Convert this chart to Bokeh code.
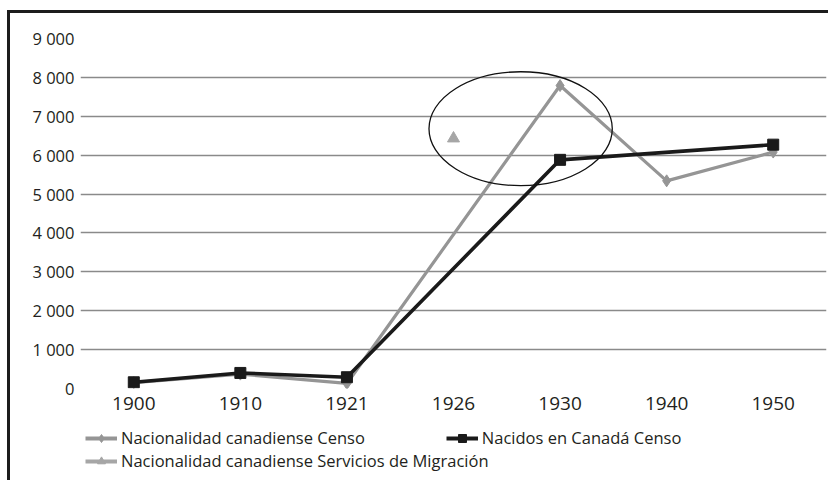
from bokeh.plotting import figure
from bokeh.layouts import column
from bokeh.models import Range1d, FixedTicker, Legend, LegendItem
from bokeh.embed import file_html
from bokeh.resources import INLINE

# ---- data ----
years = ["1900", "1910", "1921", "1926", "1930", "1940", "1950"]
nac_censo = [150, 370, 130, None, 7790, 5340, 6080]
nacidos_censo = [160, 400, 290, None, 5880, None, 6270]
nac_migracion = [None, None, None, 6430, None, None, None]
series_names = [
    "Nacionalidad canadiense Censo",
    "Nacidos en Canadá Censo",
    "Nacionalidad canadiense Servicios de Migración",
]
y_ticks = [0, 1000, 2000, 3000, 4000, 5000, 6000, 7000, 8000, 9000]
y_tick_labels = ["0", "1 000", "2 000", "3 000", "4 000", "5 000",
                 "6 000", "7 000", "8 000", "9 000"]

# highlighted region (ellipse annotation), in axis units
ell_x, ell_y, ell_w, ell_h = 3.63, 6680, 1.72, 2930

FONT = "Open Sans"
TXT = "#231f20"
STYLES = [
    dict(color="#959595", width=3.2, marker="diamond", size=12),
    dict(color="#1a1a1a", width=3.6, marker="square", size=11),
    dict(color="#a6a6a6", width=3.2, marker="triangle", size=12),
]

def pts(vals):
    xs = [i for i, v in enumerate(vals) if v is not None]
    ys = [v for v in vals if v is not None]
    return xs, ys

W = 818
p = figure(width=W, height=410, output_backend="svg", toolbar_location=None,
           x_range=Range1d(-0.5, len(years) - 0.5), y_range=Range1d(0, 9000),
           min_border_left=70, min_border_right=2, min_border_top=25,
           min_border_bottom=35)
p.outline_line_color = None

# grid
p.xgrid.grid_line_color = None
p.ygrid.grid_line_color = "#8a8a8a"
p.ygrid.grid_line_width = 1.3
p.ygrid.ticker = FixedTicker(ticks=y_ticks)

# axes
p.yaxis.ticker = FixedTicker(ticks=y_ticks)
p.yaxis.major_label_overrides = {t: l for t, l in zip(y_ticks, y_tick_labels)}
p.xaxis.ticker = FixedTicker(ticks=list(range(len(years))))
p.xaxis.major_label_overrides = {i: y for i, y in enumerate(years)}
for ax in (p.xaxis, p.yaxis):
    ax.axis_line_color = None
    ax.major_tick_line_color = None
    ax.minor_tick_line_color = None
    ax.major_tick_in = 0
    ax.major_tick_out = 0
    ax.major_label_text_font = FONT
    ax.major_label_text_color = TXT
p.yaxis.major_label_text_font_size = "16.5px"
p.yaxis.major_label_standoff = 6
p.xaxis.major_label_text_font_size = "19px"
p.xaxis.major_label_standoff = 8

# series
for vals, st in zip([nac_censo, nacidos_censo, nac_migracion], STYLES):
    xs, ys = pts(vals)
    p.line(xs, ys, line_color=st["color"], line_width=st["width"])
    p.scatter(xs, ys, marker=st["marker"], size=st["size"],
              fill_color=st["color"], line_color=st["color"])

p.ellipse(x=[ell_x], y=[ell_y], width=[ell_w], height=[ell_h],
          fill_color=None, line_color="#111111", line_width=1.3)

# ---- legend strip (separate figure so the legend is not clipped) ----
LH = 57
lf = figure(width=W, height=LH, output_backend="svg", toolbar_location=None,
            x_range=Range1d(0, 1), y_range=Range1d(0, 1),
            x_axis_location=None, y_axis_location=None,
            min_border_left=0, min_border_right=0, min_border_top=0,
            min_border_bottom=0)
lf.grid.visible = False
lf.outline_line_color = None

nan = float("nan")
items = []
for name, st in zip(series_names, STYLES):
    lr = lf.line([nan, nan], [nan, nan], line_color=st["color"], line_width=st["width"] + 0.6)
    sr = lf.scatter([nan], [nan], marker=st["marker"], size=st["size"] - 2,
                    fill_color=st["color"], line_color=st["color"])
    items.append(LegendItem(label=name, renderers=[lr, sr]))

def mk_legend(its, loc):
    lg = Legend(items=its, orientation="horizontal", location=loc)
    lg.label_text_font = FONT
    lg.label_text_font_size = "16.5px"
    lg.label_text_color = TXT
    lg.border_line_color = None
    lg.background_fill_alpha = 0
    lg.padding = 0
    lg.margin = 0
    lg.glyph_width = 32
    lg.glyph_height = 20
    lg.label_height = 20
    lg.label_standoff = 4
    lg.spacing = 81
    return lg

lf.add_layout(mk_legend(items[:2], (5, 31)), "center")
lf.add_layout(mk_legend(items[2:], (5, 8)), "center")

layout = column(p, lf, spacing=0)
layout.styles = {"margin-left": "7px", "margin-top": "10px",
                 "border-top": "3px solid #1c1c1c",
                 "border-left": "3px solid #1c1c1c"}

open("out.html", "w").write(file_html(layout, INLINE))
